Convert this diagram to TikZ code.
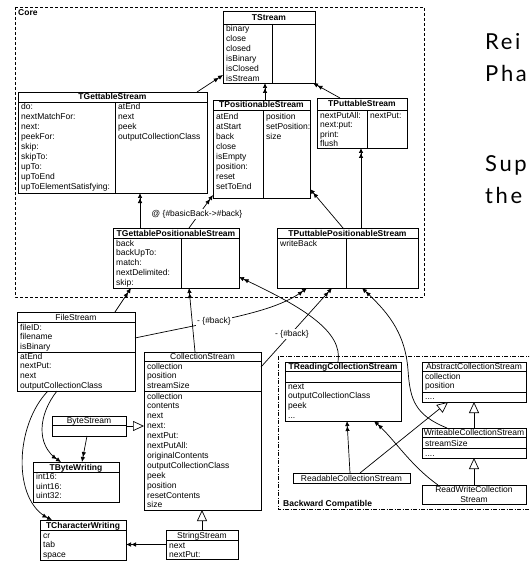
\documentclass[tikz,border=0pt]{standalone}
\usepackage{fontspec}
\setmainfont{Liberation Sans}
\newfontfamily\slidefont[LetterSpace=12]{Lato}
\usetikzlibrary{arrows.meta,calc,fit}

% one class box: frame, header rule and title
% #1 name, #2 x1, #3 y1, #4 x2, #5 y2, #6 header bottom, #7 title style, #8 title
\newcommand\umlclass[8]{%
  \node[umlbox, fit={(#2,#3) (#4,#5)}] (#1) {};
  \draw[boxline] (#2,#6) -- (#4,#6);
  \node[#7] (#1-title) at ({(#2+#4)/2},{(#3+#6)/2+3}) {#8};
}
% a column of members, one per line
% #1 name prefix, #2 x, #3 baseline of the first line, #4 line spacing, #5 comma separated entries
\newcommand\members[5]{%
  \foreach \m [count=\i from 0] in {#5} {
    \node[member] (#1-\i) at (#2,{#3+#4*\i}) {\m};
  }%
}

\begin{document}
\begin{tikzpicture}[x=1pt,y=-1pt,
  boxline/.style={line width=0.8pt},
  umlbox/.style={draw, line width=0.8pt, inner sep=0pt, outer sep=0pt, fill=white},
  member/.style={anchor=base west, inner sep=0pt, font=\fontsize{8.5}{9.9}\selectfont},
  ctitle/.style={anchor=base, inner sep=0pt, font=\fontsize{8.5}{9.9}\selectfont\bfseries},
  ntitle/.style={anchor=base, inner sep=0pt, align=center, font=\fontsize{8.5}{9.9}\selectfont},
  dep/.style={line width=0.7pt, -{Latex[length=5pt,width=4.5pt]Latex[length=5pt,width=4.5pt]}},
  gen/.style={line width=0.7pt, -{Triangle[length=11pt,width=10pt,fill=white]}},
  note/.style={fill=white, inner sep=1pt, font=\fontsize{8.5}{9.9}\selectfont},
  bigtext/.style={anchor=base west, inner sep=0pt, font=\slidefont\fontsize{22}{28}\selectfont},
]
\useasboundingbox (0,0) rectangle (529,561);
\clip (0,0) rectangle (529,561);

% package frames
\draw[line width=0.7pt, dash pattern=on 3pt off 2pt] (15,7) rectangle (424,297);
\node[anchor=base west, inner sep=0pt, font=\fontsize{8.5}{9.9}\selectfont\bfseries] (corelabel) at (18,16) {Core};
\draw[line width=0.7pt, dash pattern=on 4pt off 1.5pt on 1pt off 1.5pt] (278,356) rectangle (540,509);
\node[anchor=base west, inner sep=0pt, font=\fontsize{8.5}{9.9}\selectfont\bfseries] (bclabel) at (283,506) {Backward Compatible};

% ---- Core traits
\umlclass{tstream}{223}{11}{315}{83}{24}{ctitle}{TStream}
\draw[boxline] (272,24) -- (272,83);
\members{tstream-a}{226}{32}{9.9}{binary,close,closed,isBinary,isClosed,isStream}

\umlclass{tgettable}{18}{92}{207}{193}{102}{ctitle}{TGettableStream}
\draw[boxline] (115,102) -- (115,193);
\members{tgettable-a}{21}{110}{9.9}{do:,nextMatchFor:,next:,peekFor:,skip:,skipTo:,upTo:,upToEnd,upToElementSatisfying:}
\members{tgettable-b}{118}{110}{9.9}{atEnd,next,peek,outputCollectionClass}

\umlclass{tpositionable}{213}{100}{310}{198}{110}{ctitle}{TPositionableStream}
\draw[boxline] (263,110) -- (263,198);
\members{tpositionable-a}{216}{120}{9.9}{atEnd,atStart,back,close,isEmpty,position:,reset,setToEnd}
\members{tpositionable-b}{266}{120}{9.9}{position,setPosition:,size}

\umlclass{tputtable}{317}{98}{407}{148}{110}{ctitle}{TPuttableStream}
\draw[boxline] (367,110) -- (367,148);
\members{tputtable-a}{320}{118.5}{9.5}{nextPutAll:,next:put:,print:,flush}
\members{tputtable-b}{370}{118.5}{9.5}{nextPut:}

\umlclass{tgps}{113}{228}{239}{288}{238}{ctitle}{TGettablePositionableStream}
\draw[boxline] (181,238) -- (181,288);
\members{tgps-a}{116}{246}{9.9}{back,backUpTo:,match:,nextDelimited:,skip:}

\umlclass{tpps}{277}{228}{418}{288}{238}{ctitle}{TPuttablePositionableStream}
\draw[boxline] (346,238) -- (346,288);
\members{tpps-a}{280}{246}{9.9}{writeBack}

% ---- concrete stream classes
\umlclass{filestream}{17}{312}{135}{391}{322}{ntitle}{FileStream}
\draw[boxline] (17,352) -- (135,352);
\members{filestream-a}{20}{330}{9.9}{fileID:,filename,isBinary}
\members{filestream-b}{20}{359}{9.9}{atEnd,nextPut:,next,outputCollectionClass}

\umlclass{collstream}{144}{352}{261}{510}{361}{ntitle}{CollectionStream}
\draw[boxline] (144,391) -- (261,391);
\members{collstream-a}{147}{369}{9.9}{collection,position,streamSize}
\members{collstream-b}{147}{399}{9.9}{collection,contents,next,next:,nextPut:,nextPutAll:,originalContents,outputCollectionClass,peek,position,resetContents,size}

\umlclass{bytestream}{52}{416}{126}{436}{425}{ntitle}{ByteStream}

\umlclass{tbytewriting}{33}{462}{119}{502}{472}{ctitle}{TByteWriting}
\members{tbytewriting-a}{36}{479.5}{9.5}{int16:,uint16:,uint32:}

\umlclass{tcharwriting}{40}{520}{126}{560}{530}{ctitle}{TCharacterWriting}
\members{tcharwriting-a}{43}{538}{9.7}{cr,tab,space}

\umlclass{stringstream}{166}{530}{238}{559}{540}{ntitle}{StringStream}
\members{stringstream-a}{169}{548}{9.7}{next,nextPut:}

% ---- backward compatible classes
\umlclass{treading}{285}{362}{401}{421}{371}{ctitle}{TReadingCollectionStream}
\draw[boxline] (285,382) -- (401,382);
\members{treading-a}{288}{389}{9.9}{next,outputCollectionClass,peek}
\node[member] (treading-more) at (288,418.7) {...};

\umlclass{abstract}{422}{362}{526}{402}{371}{ntitle}{AbstractCollectionStream}
\draw[boxline] (422,392) -- (526,392);
\members{abstract-a}{425}{379}{9.9}{collection,position}
\node[member] (abstract-more) at (425,399) {....};

\umlclass{writeable}{422}{428}{526}{458}{437}{ntitle}{WriteableCollectionStream}
\draw[boxline] (422,448) -- (526,448);
\members{writeable-a}{425}{446}{9.9}{streamSize}
\node[member] (writeable-more) at (425,456) {....};

\node[umlbox, fit={(422,485) (526,504)}] (readwrite) {};
\node[ntitle] (readwrite-title) at (474,492) {ReadWriteCollection};
\node[ntitle] (readwrite-title2) at (474,502) {Stream};

\node[umlbox, fit={(293,473) (410,483)}] (readable) {};
\node[ntitle] (readable-title) at (351.5,481.5) {ReadableCollectionStream};

% ---- trait usage
\draw[dep] ($(tgettable.north west)+(179,0)$) -- ($(tstream.north west)+(0,64)$);
\draw[dep] ($(tpositionable.north west)+(52,0)$) -- ($(tstream.south west)+(42,0)$);
\draw[dep] ($(tputtable.north west)+(23,0)$) -- ($(tstream.south east)+(-2,0)$);
\draw[dep] ($(tgps.north west)+(27,0)$) -- ($(tgettable.south west)+(122,0)$);
\draw[dep] ($(tgps.north west)+(76,0)$) -- ($(tpositionable.south west)+(0,-3)$);
\draw[dep] ($(tpps.north west)+(66,0)$) -- ($(tpositionable.south east)+(0,-9)$);
\draw[dep] ($(tpps.north west)+(84,0)$) -- ($(tputtable.south west)+(44,0)$);
\draw[dep] ($(filestream.north west)+(98,0)$) -- ($(tgps.south west)+(18,0)$);
\draw[dep] ($(filestream.north east)+(0,26)$) .. controls (230,318) and (275,312) .. ($(tpps.south west)+(30,0)$);
\draw[dep] ($(collstream.north west)+(51,0)$) -- ($(tgps.south west)+(76,0)$);
\draw[dep] ($(collstream.north east)+(0,15)$) -- ($(tpps.south west)+(55,0)$);
\draw[dep] ($(treading.north west)+(53,0)$) .. controls (343,332) and (305,308) .. ($(tgps.south east)+(0,-11)$);
\draw[dep] ($(writeable.north west)+(25,0)$) .. controls (415,415) and (410,400) .. (408,370) .. controls (405,330) and (385,310) .. ($(tpps.south west)+(85,0)$);
\draw[dep] ($(readable.north west)+(57,0)$) -- ($(treading.south west)+(62,0)$);
\draw[dep] ($(readwrite.north west)+(16,0)$) .. controls (410,465) and (395,440) .. ($(treading.south west)+(89,0)$);
\draw[dep] ($(filestream.south west)+(40,0)$) .. controls (38,415) and (36,445) .. ($(tbytewriting.north west)+(28,0)$);
\draw[dep] ($(filestream.south west)+(31,0)$) .. controls (15,425) and (12,500) .. ($(tcharwriting.north west)+(12,0)$);
\draw[dep] ($(bytestream.south west)+(35,0)$) -- ($(tbytewriting.north west)+(49,0)$);
\draw[dep] (stringstream.west) -- (tcharwriting.east |- stringstream.west);

% ---- inheritance
\draw[gen] (bytestream.east) -- (collstream.west |- bytestream.east);
\draw[gen] ($(stringstream.north west)+(36,0)$) -- ($(collstream.south west)+(58,0)$);
\draw[gen] (writeable.north) -- (abstract.south);
\draw[gen] (readwrite.north) -- (writeable.south);
\draw[gen] ($(readable.north west)+(67,0)$) -- ($(abstract.south west)+(26,0)$);

% ---- connector labels
\node[note] (lbl-basicback) at (197,214) {@ \{\#basicBack->\#back\}};
\node[note] (lbl-back-file) at (214,321) {- \{\#back\}};
\node[note] (lbl-back-coll) at (292,334) {- \{\#back\}};

% ---- slide text beside the diagram
\node[bigtext] (w1) at (485,50) {Rei};
\node[bigtext] (w2) at (485,82) {Pha};
\node[bigtext] (w3) at (485,172) {Sup};
\node[bigtext] (w4) at (485,204) {the};
\end{tikzpicture}
\end{document}
